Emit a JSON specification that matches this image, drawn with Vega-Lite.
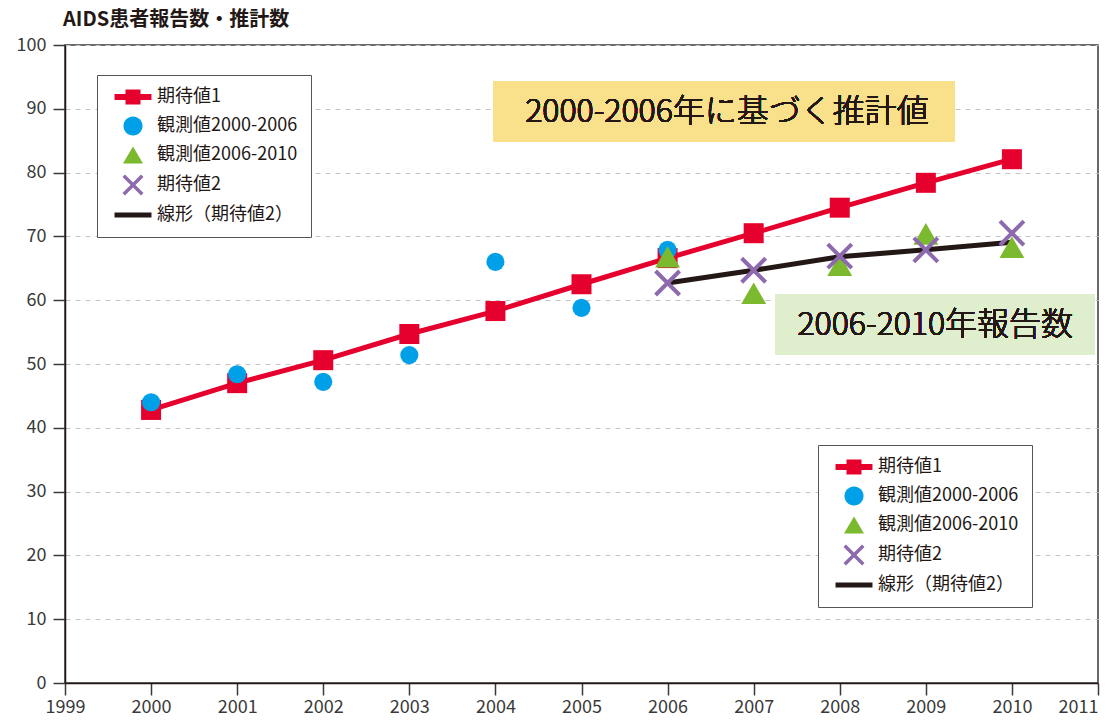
{
  "$schema": "https://vega.github.io/schema/vega-lite/v6.json",
  "width": 1033,
  "height": 638,
  "autosize": {"type": "none"},
  "padding": {"left": 65, "top": 45, "right": 18, "bottom": 38},
  "background": "white",
  "title": {"text": "AIDS患者報告数・推計数", "anchor": "start", "frame": "group", "fontSize": 20, "fontWeight": "bold", "font": "Noto Sans CJK JP", "color": "#231815", "offset": 6, "dx": -2},
  "config": {
    "font": "Noto Sans CJK JP",
    "view": {"stroke": "#3a3a3a", "strokeWidth": 1.5},
    "axis": {"labelFont": "Noto Sans CJK JP", "labelFontSize": 18, "labelColor": "#3a3a3a", "domainColor": "#231815", "domainWidth": 1.5, "tickColor": "#3a3a3a", "tickWidth": 1.5, "title": null}
  },
  "datasets": {
    "main": [
      {"year": 2000, "series": "期待値1", "value": 42.8},
      {"year": 2001, "series": "期待値1", "value": 47.0},
      {"year": 2002, "series": "期待値1", "value": 50.6},
      {"year": 2003, "series": "期待値1", "value": 54.7},
      {"year": 2004, "series": "期待値1", "value": 58.3},
      {"year": 2005, "series": "期待値1", "value": 62.5},
      {"year": 2006, "series": "期待値1", "value": 66.6},
      {"year": 2007, "series": "期待値1", "value": 70.5},
      {"year": 2008, "series": "期待値1", "value": 74.5},
      {"year": 2009, "series": "期待値1", "value": 78.4},
      {"year": 2010, "series": "期待値1", "value": 82.1},
      {"year": 2000, "series": "観測値2000-2006", "value": 44.0},
      {"year": 2001, "series": "観測値2000-2006", "value": 48.4},
      {"year": 2002, "series": "観測値2000-2006", "value": 47.2},
      {"year": 2003, "series": "観測値2000-2006", "value": 51.4},
      {"year": 2004, "series": "観測値2000-2006", "value": 66.0},
      {"year": 2005, "series": "観測値2000-2006", "value": 58.8},
      {"year": 2006, "series": "観測値2000-2006", "value": 67.9},
      {"year": 2006, "series": "観測値2006-2010", "value": 66.8},
      {"year": 2007, "series": "観測値2006-2010", "value": 61.1},
      {"year": 2008, "series": "観測値2006-2010", "value": 65.5},
      {"year": 2009, "series": "観測値2006-2010", "value": 70.4},
      {"year": 2010, "series": "観測値2006-2010", "value": 68.3},
      {"year": 2006, "series": "期待値2", "value": 62.7},
      {"year": 2007, "series": "期待値2", "value": 64.7},
      {"year": 2008, "series": "期待値2", "value": 66.9},
      {"year": 2009, "series": "期待値2", "value": 67.9},
      {"year": 2010, "series": "期待値2", "value": 70.5},
      {"year": 2006, "series": "線形（期待値2）", "value": 62.7},
      {"year": 2007, "series": "線形（期待値2）", "value": 64.7},
      {"year": 2008, "series": "線形（期待値2）", "value": 66.8},
      {"year": 2009, "series": "線形（期待値2）", "value": 67.9},
      {"year": 2010, "series": "線形（期待値2）", "value": 69.1}
    ]
  },
  "data": {"name": "main"},
  "encoding": {
    "x": {"field": "year", "type": "quantitative", "scale": {"domain": [1999, 2011], "nice": false, "zero": false},
      "axis": {"values": [1999, 2000, 2001, 2002, 2003, 2004, 2005, 2006, 2007, 2008, 2009, 2010, 2011], "format": "d", "grid": false, "tickSize": 12, "labelPadding": 3, "labelFlush": false, "labelOverlap": false,
        "labelAlign": {"expr": "datum.value == 2011 ? 'right' : 'center'"}, "labelDx": {"expr": "datum.value == 2011 ? 17 : 0"}}},
    "y": {"field": "value", "type": "quantitative", "scale": {"domain": [0, 100], "nice": false},
      "axis": {"values": [0, 10, 20, 30, 40, 50, 60, 70, 80, 90, 100], "grid": true, "gridDash": [5, 5], "gridColor": "#c4c4c4", "gridWidth": 1, "tickSize": 12, "labelPadding": 7}}
  },
  "layer": [
    {
      "mark": {"type": "rect", "color": "#f9e18b"},
      "encoding": {"x": {"datum": 2003.98, "type": "quantitative"}, "x2": {"datum": 2009.33}, "y": {"datum": 94.36, "type": "quantitative"}, "y2": {"datum": 84.8}}
    },
    {
      "mark": {"type": "text", "text": "2000-2006年に基づく推計値", "fontSize": 32, "fontWeight": 300, "color": "#231815", "align": "center", "baseline": "middle", "font": "Noto Sans CJK JP"},
      "encoding": {"x": {"datum": 2006.69, "type": "quantitative"}, "y": {"datum": 89.5, "type": "quantitative"}}
    },
    {
      "mark": {"type": "rect", "color": "#dfeecd"},
      "encoding": {"x": {"datum": 2007.25, "type": "quantitative"}, "x2": {"datum": 2010.965}, "y": {"datum": 60.97, "type": "quantitative"}, "y2": {"datum": 51.41}}
    },
    {
      "mark": {"type": "text", "text": "2006-2010年報告数", "fontSize": 32, "fontWeight": 300, "color": "#231815", "align": "center", "baseline": "middle", "font": "Noto Sans CJK JP"},
      "encoding": {"x": {"datum": 2009.11, "type": "quantitative"}, "y": {"datum": 56.1, "type": "quantitative"}}
    },
    {
      "transform": [{"filter": "datum.series === '期待値1'"}],
      "mark": {"type": "line", "color": "#e6002d", "strokeWidth": 5}
    },
    {
      "transform": [{"filter": "datum.series === '期待値1'"}],
      "mark": {"type": "point", "shape": "square", "filled": true, "size": 400, "color": "#e6002d", "opacity": 1}
    },
    {
      "transform": [{"filter": "datum.series === '観測値2000-2006'"}],
      "mark": {"type": "point", "shape": "circle", "filled": true, "size": 330, "color": "#00a0e9", "opacity": 1}
    },
    {
      "transform": [{"filter": "datum.series === '線形（期待値2）'"}],
      "mark": {"type": "line", "color": "#231815", "strokeWidth": 5}
    },
    {
      "transform": [{"filter": "datum.series === '観測値2006-2010'"}],
      "mark": {"type": "point", "shape": "triangle-up", "filled": true, "size": 620, "color": "#7bb92f", "opacity": 1}
    },
    {
      "transform": [{"filter": "datum.series === '期待値2'"}],
      "mark": {"type": "point", "shape": "M-1,-1L1,1M-1,1L1,-1", "filled": false, "size": 576, "color": "#8d6aae", "strokeWidth": 4, "opacity": 1}
    },
    {
      "transform": [{"filter": "datum.year < 0"}],
      "mark": {"type": "point", "filled": true, "opacity": 1},
      "encoding": {
        "color": {"field": "series", "type": "nominal",
          "scale": {"domain": ["期待値1", "観測値2000-2006", "観測値2006-2010", "期待値2", "線形（期待値2）"], "range": ["#e6002d", "#00a0e9", "#7bb92f", "#8d6aae", "#231815"]},
          "legend": {"orient": "none", "legendX": 32, "legendY": 30, "title": null, "padding": 13, "strokeColor": "#555555", "fillColor": "white", "labelFont": "Noto Sans CJK JP", "labelFontSize": 18, "labelColor": "#231815", "labelLimit": 300, "symbolSize": 196, "symbolStrokeWidth": 0, "symbolOffset": 14, "labelOffset": 15, "rowPadding": 10, "symbolOpacity": 1}},
        "shape": {"field": "series", "type": "nominal",
          "scale": {"domain": ["期待値1", "観測値2000-2006", "観測値2006-2010", "期待値2", "線形（期待値2）"], "range": [
            "M-2.64,-0.43H2.64V0.43H-2.64Z M-1.07,-1.07H1.07V1.07H-1.07Z",
            "M-1.36,0A1.36,1.36 0 1,0 1.36,0A1.36,1.36 0 1,0 -1.36,0Z",
            "M0,-1.21L1.43,1.21L-1.43,1.21Z",
            "M-1.5,-1.15L-1.15,-1.5L0,-0.35L1.15,-1.5L1.5,-1.15L0.35,0L1.5,1.15L1.15,1.5L0,0.35L-1.15,1.5L-1.5,1.15L-0.35,0Z",
            "M-2.64,-0.36H2.64V0.36H-2.64Z"]},
          "legend": {"orient": "none", "legendX": 32, "legendY": 30, "title": null, "padding": 13, "strokeColor": "#555555", "fillColor": "white", "labelFont": "Noto Sans CJK JP", "labelFontSize": 18, "labelColor": "#231815", "labelLimit": 300, "symbolSize": 196, "symbolStrokeWidth": 0, "symbolOffset": 14, "labelOffset": 15, "rowPadding": 10, "symbolOpacity": 1}}
      }
    },
    {
      "transform": [{"filter": "datum.year < 0"}],
      "mark": {"type": "point", "filled": true, "opacity": 1},
      "encoding": {
        "color": {"field": "series", "type": "nominal",
          "scale": {"domain": ["期待値1", "観測値2000-2006", "観測値2006-2010", "期待値2", "線形（期待値2）"], "range": ["#e6002d", "#00a0e9", "#7bb92f", "#8d6aae", "#231815"]},
          "legend": {"orient": "none", "legendX": 753, "legendY": 400, "title": null, "padding": 13, "strokeColor": "#555555", "fillColor": "white", "labelFont": "Noto Sans CJK JP", "labelFontSize": 18, "labelColor": "#231815", "labelLimit": 300, "symbolSize": 196, "symbolStrokeWidth": 0, "symbolOffset": 14, "labelOffset": 15, "rowPadding": 10, "symbolOpacity": 1}},
        "shape": {"field": "series", "type": "nominal",
          "scale": {"domain": ["期待値1", "観測値2000-2006", "観測値2006-2010", "期待値2", "線形（期待値2）"], "range": [
            "M-2.64,-0.43H2.64V0.43H-2.64Z M-1.07,-1.07H1.07V1.07H-1.07Z",
            "M-1.36,0A1.36,1.36 0 1,0 1.36,0A1.36,1.36 0 1,0 -1.36,0Z",
            "M0,-1.21L1.43,1.21L-1.43,1.21Z",
            "M-1.5,-1.15L-1.15,-1.5L0,-0.35L1.15,-1.5L1.5,-1.15L0.35,0L1.5,1.15L1.15,1.5L0,0.35L-1.15,1.5L-1.5,1.15L-0.35,0Z",
            "M-2.64,-0.36H2.64V0.36H-2.64Z"]},
          "legend": {"orient": "none", "legendX": 753, "legendY": 400, "title": null, "padding": 13, "strokeColor": "#555555", "fillColor": "white", "labelFont": "Noto Sans CJK JP", "labelFontSize": 18, "labelColor": "#231815", "labelLimit": 300, "symbolSize": 196, "symbolStrokeWidth": 0, "symbolOffset": 14, "labelOffset": 15, "rowPadding": 10, "symbolOpacity": 1}}
      }
    }
  ],
  "resolve": {"scale": {"color": "independent", "shape": "independent"}}
}
